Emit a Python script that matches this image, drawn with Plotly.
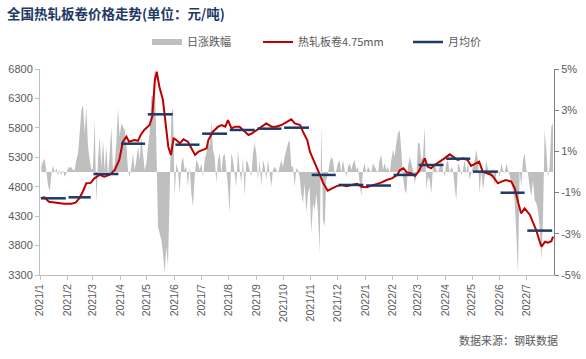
import pandas as pd
import plotly.graph_objects as go

# ---------------- data ----------------
months = ["2021-01", "2021-02", "2021-03", "2021-04", "2021-05", "2021-06", "2021-07",
          "2021-08", "2021-09", "2021-10", "2021-11", "2021-12", "2022-01", "2022-02",
          "2022-03", "2022-04", "2022-05", "2022-06", "2022-07"]
month_labels = ["2021/1", "2021/2", "2021/3", "2021/4", "2021/5", "2021/6", "2021/7",
                "2021/8", "2021/9", "2021/10", "2021/11", "2021/12", "2022/1", "2022/2",
                "2022/3", "2022/4", "2022/5", "2022/6", "2022/7"]
month_avg = [4603, 4620, 5016, 5531, 6030, 5514, 5701, 5764, 5786, 5803, 5000, 4830,
             4820, 5000, 5169, 5276, 5056, 4698, 4054]

pct_ticks = [-5, -3, -1, 1, 3, 5]
pct_labels = ["-5%", "-3%", "-1%", "1%", "3%", "5%"]

price_dates = [
    "2021-01-02", "2021-01-06", "2021-01-11", "2021-01-21", "2021-01-28",
    "2021-02-05", "2021-02-10", "2021-02-14", "2021-02-18", "2021-02-22", "2021-02-27",
    "2021-03-03", "2021-03-09", "2021-03-14", "2021-03-20", "2021-03-26", "2021-03-31",
    "2021-04-04", "2021-04-08", "2021-04-11", "2021-04-17", "2021-04-21", "2021-04-24", "2021-04-28",
    "2021-05-04", "2021-05-07", "2021-05-10", "2021-05-12", "2021-05-15", "2021-05-19", "2021-05-22",
    "2021-05-25", "2021-05-28", "2021-05-31",
    "2021-06-03", "2021-06-07", "2021-06-11", "2021-06-16", "2021-06-20", "2021-06-24", "2021-06-28",
    "2021-07-03", "2021-07-07", "2021-07-09", "2021-07-14", "2021-07-20", "2021-07-24", "2021-07-28", "2021-07-31",
    "2021-08-04", "2021-08-08", "2021-08-13", "2021-08-19", "2021-08-23", "2021-08-27",
    "2021-09-01", "2021-09-06", "2021-09-12", "2021-09-18", "2021-09-23", "2021-09-29",
    "2021-10-05", "2021-10-10", "2021-10-14", "2021-10-20", "2021-10-24", "2021-10-28", "2021-10-31",
    "2021-11-04", "2021-11-08", "2021-11-12", "2021-11-15", "2021-11-20", "2021-11-25", "2021-11-30",
    "2021-12-06", "2021-12-11", "2021-12-17", "2021-12-23", "2021-12-28",
    "2022-01-03", "2022-01-08", "2022-01-14", "2022-01-19", "2022-01-25", "2022-01-31",
    "2022-02-06", "2022-02-09", "2022-02-13", "2022-02-17", "2022-02-22", "2022-02-26",
    "2022-03-02", "2022-03-09", "2022-03-12", "2022-03-16", "2022-03-20", "2022-03-26", "2022-03-31",
    "2022-04-06", "2022-04-10", "2022-04-15", "2022-04-21", "2022-04-26", "2022-04-30",
    "2022-05-06", "2022-05-09", "2022-05-13", "2022-05-19", "2022-05-23", "2022-05-26", "2022-05-30",
    "2022-06-03", "2022-06-08", "2022-06-14", "2022-06-18", "2022-06-22", "2022-06-25", "2022-06-29",
    "2022-07-05", "2022-07-08", "2022-07-12", "2022-07-16", "2022-07-18", "2022-07-22", "2022-07-25",
    "2022-07-29", "2022-07-31"]
price_values = [
    4608, 4620, 4545, 4518, 4510,
    4510, 4530, 4600, 4715, 4858, 4865,
    4942, 5000, 4970, 5000, 5084, 5254,
    5565, 5650, 5565, 5594, 5580, 5679, 5764,
    5848, 5990, 6613, 6754, 6500, 6273, 5820,
    5480, 5339, 5622,
    5594, 5537, 5605, 5565, 5452, 5339, 5395,
    5424, 5452, 5594, 5735, 5820, 5848, 5820, 5933,
    5792, 5820, 5820, 5735, 5679, 5707,
    5764, 5820, 5876, 5820, 5820, 5848,
    5905, 5945, 5876, 5848, 5707, 5594, 5395,
    5254, 5141, 4970, 4858, 4733, 4773, 4810,
    4829, 4810, 4829, 4848, 4800,
    4790, 4818, 4848, 4870, 4914, 4942,
    5000, 5084, 5112, 5040, 5028, 4985,
    5056, 5282, 5141, 5112, 5169, 5225, 5282,
    5350, 5310, 5254, 5282, 5254, 5152,
    5197, 5225, 5056, 5028, 5000, 4942, 4858,
    4886, 4914, 4886, 4773, 4518, 4348, 4433,
    4320, 4206, 4065, 3866, 3781, 3866, 3850,
    3875, 3950]

# daily change (%), sampled on a regular grid across the period
chg_start = "2021-01-02 12:00"
chg_step = "2694min"
chg_values = [
    0.26, 0.5, 0.66, 0.02, -0.63, -0.95, -0.15, 0.34, -0.06, 0.18,
    -0.15, 0.1, -0.15, 0.1, -0.23, -0.06, 0.18, 0.23, 0.23, 0.1,
    0.1, 0.58, 0.9, 1.88, 3.0, 3.25, 1.88, 3.17, 1.23, 0.58,
    0.1, 0.18, 2.52, -1.52, 0.58, 1.72, 0.26, 1.55, 0.1, 1.23,
    -0.23, 0.9, 2.2, 0.1, 0.42, 1.39, 3.09, 1.72, 2.36, 2.2,
    2.04, 1.39, 0.1, -0.23, 0.26, 0.9, 0.1, 0.58, 1.23, 0.58,
    1.72, 0.9, 0.1, 0.42, 1.23, 1.88, 3.66, 3.66, 5.1, 1.39,
    -2.65, -2.98, -3.3, -3.95, -4.92,
    -3.62, -4.6, -1.04, 2.85, 3.09, -1.2, 0.42, 0.1, -1.04, 0.42,
    0.74, 0.1, 0.26, -0.71, 0.26, -1.04, -1.68, -0.23, 0.58, 0.42,
    0.1, 0.42, -0.23, 0.58, 0.9, 1.55, 1.23, 2.44, 1.07, 0.74,
    -0.55, 0.58, 0.9, -0.06, 0.74, 0.9, 0.1, -0.71, -2.0, 0.9,
    0.58, -0.06, -0.71, 1.07, 0.1, -0.55, 0.74, -1.2, 0.58, 0.42,
    0.1, -0.23, 0.9, 1.39, 0.9, -0.39, 0.58, -0.71, 0.58, 0.26,
    -0.39, 0.58, -0.06, -0.71, 0.1, 0.26, 0.1, -0.06, 0.26, 0.58,
    0.26, 0.74, 1.07, 1.39, 1.55, 0.26,
    0.26, -0.71, 0.18, 0.1, -0.23, -1.04, -1.52, -0.55, -2.0, -1.04,
    -0.71, -2.98, -1.52, -1.84, -1.04, -2.0, -3.95, 2.28, -2.33, -2.65,
    -0.39, -0.06, 0.42, 0.74, 0.58, -0.06, 0.1, 0.42, 0.58, -0.06,
    0.58, 0.1, -0.23, 0.26, 0.42, 0.1, 0.42, 0.58, 0.1, 0.26,
    -0.55, -1.2, 0.1, 0.42, -0.06, 0.26, 0.1, -0.06, 0.42, 0.26,
    0.1, -0.06, 0.58, 0.83, 0.1, 0.42, 0.1, 0.26, -0.06, 0.58,
    1.07, 0.74, 1.39, 1.88, 2.04, 1.07, -0.23, -0.87, -1.04, 0.26,
    0.74, 0.42, 0.1, -0.55, -0.23, 1.39,
    1.39, 0.58, 0.74, 2.2, -0.87, -0.23, -0.39, -1.04, 0.26, 0.42,
    0.1, -0.06, 0.26, 0.58, 0.1, -0.23, 0.42, 0.58, -0.06, 0.26,
    0.1, -0.71, -1.36, 0.42, 0.26, -0.15, 0.1, 0.58, -0.06, 0.42,
    -0.39, -0.06, 0.26, 0.58, 1.07, 0.58, -1.04, 0.1, -0.87, -0.23,
    0.58, 0.1, -0.06, -0.39, 0.26, -0.71, -0.06, 0.1, -0.23, 0.42,
    0.1, -0.06, 0.42, 0.1, -0.15, -0.55, -0.87, -1.36, -2.98, -4.92,
    0.1, -0.71, 0.58, 0.9, 0.1, -0.06, -0.71, -1.2, -0.39, -1.36,
    -1.52, -1.84, -2.65, -4.27, -2.33, 2.04, 1.07, -0.23, 0.26, 2.2,
    2.36]

series_names = ["日涨跌幅", "热轧板卷4.75mm", "月均价"]
title_text = "全国热轧板卷价格走势(单位：元/吨)"
source_text = "数据来源：钢联数据"

# ---------------- derived ----------------
chg_dates = pd.date_range(chg_start, periods=len(chg_values), freq=chg_step)

avg_x, avg_y = [], []
for m, v in zip(months, month_avg):
    s = pd.Timestamp(m + "-01")
    e = s + pd.offsets.MonthEnd(0)
    avg_x += [s + pd.Timedelta(days=1), e - pd.Timedelta(days=1), None]
    avg_y += [v, v, None]

tick_vals = [pd.Timestamp(m + "-01") for m in months]

GRAY_TXT = "#595959"
AXIS_C = "#BFBFBF"
CJK = "Noto Sans CJK SC"
NUM = "Liberation Sans, Noto Sans CJK SC"
W, H = 586, 359

fig = go.Figure()
fig.add_trace(go.Scatter(x=chg_dates, y=chg_values, name=series_names[0], mode="none",
                         fill="tozeroy", fillcolor="#BFBFBF", yaxis="y", legend="legend",
                         showlegend=True))
fig.add_trace(go.Scatter(x=pd.to_datetime(price_dates), y=price_values, name=series_names[1],
                         mode="lines", line=dict(color="#C00000", width=2),
                         yaxis="y2", legend="legend2", showlegend=True))
fig.add_trace(go.Scatter(x=avg_x, y=avg_y, name=series_names[2], mode="lines",
                         line=dict(color="#1F3864", width=2.5),
                         yaxis="y2", legend="legend3", connectgaps=False, showlegend=True))

# legends placed in plot-area (paper) coordinates; margins are fixed so they don't push
PX0, PW, PY1, PH = 40, 514, 275, 206
leg_common = dict(y=(PY1 - 42) / PH, yanchor="middle", xanchor="left", orientation="h",
                  font=dict(size=11, color=GRAY_TXT, family=CJK),
                  bgcolor="rgba(0,0,0,0)", borderwidth=0)

fig.update_layout(
    width=W, height=H, showlegend=True, autosize=False,
    margin=dict(l=40, r=32, t=69, b=84, autoexpand=False),
    paper_bgcolor="white", plot_bgcolor="white",
    title=dict(text=title_text, x=7 / W, xanchor="left", y=1 - 14 / H, yanchor="middle",
               font=dict(family=CJK, size=13.5, color="#1F3864", weight="bold")),
    xaxis=dict(type="date", range=["2021-01-01", "2022-08-01"], tickvals=tick_vals,
               ticktext=month_labels, tickangle=-90, showline=True, linecolor=AXIS_C,
               ticks="outside", tickcolor=AXIS_C, ticklen=4, showgrid=False, zeroline=False,
               automargin=False,
               tickfont=dict(family=NUM, size=10.5, color=GRAY_TXT)),
    yaxis=dict(side="right", range=[-5, 5], tickvals=pct_ticks, ticktext=pct_labels,
               showline=True, linecolor="#808080", ticks="outside", tickcolor="#808080", ticklen=4,
               showgrid=False, zeroline=False, automargin=False,
               tickfont=dict(family=NUM, size=11, color=GRAY_TXT)),
    yaxis2=dict(overlaying="y", side="left", range=[3300, 6800], tick0=3300, dtick=500,
                showline=True, linecolor=AXIS_C, ticks="outside", tickcolor=AXIS_C, ticklen=4,
                showgrid=False, zeroline=False, automargin=False,
                tickfont=dict(family=NUM, size=11, color=GRAY_TXT)),
    legend=dict(x=(147 - PX0) / PW, **leg_common),
    legend2=dict(x=(258 - PX0) / PW, **leg_common),
    legend3=dict(x=(408 - PX0) / PW, **leg_common),
    annotations=[dict(text=source_text, xref="paper", yref="paper", x=(560 - PX0) / PW,
                      y=(PY1 - 340) / PH, xanchor="right", yanchor="middle", showarrow=False,
                      font=dict(family=CJK, size=11, color=GRAY_TXT))],
)

fig.write_html("out.html", config={"displayModeBar": False},
               post_script="document.body.style.margin='0';document.body.style.overflow='hidden';")
